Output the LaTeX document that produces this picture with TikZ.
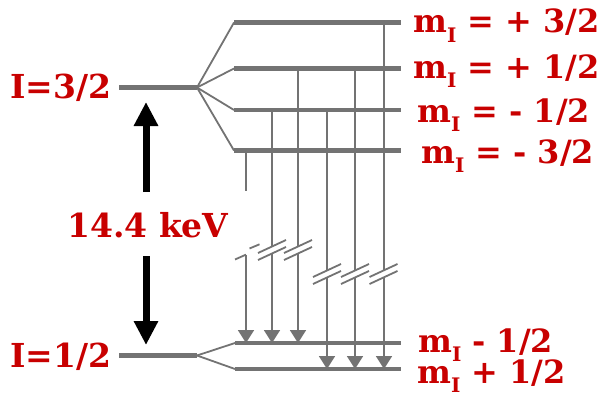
\documentclass[tikz,border=0pt]{standalone}
\usepackage{fontspec}
\setmainfont{DejaVu Serif}
\usetikzlibrary{arrows.meta}
\definecolor{lblred}{HTML}{C80000}
\definecolor{lvlgray}{HTML}{737373}
\newcommand{\mysub}{\raisebox{-0.3em}{\fontsize{20}{20}\selectfont\bfseries I}}
\begin{document}
\begin{tikzpicture}[x=1pt,y=-1pt,
  lvl/.style={draw=lvlgray,line width=4.5pt},
  fan/.style={draw=lvlgray,line width=1.8pt},
  trans/.style={draw=lvlgray,line width=1.8pt,-{Triangle[width=16pt,length=13pt]}},
  vline/.style={draw=lvlgray,line width=1.8pt},
  slash/.style={draw=lvlgray,line width=1.8pt},
  gapband/.style={draw=white,line width=5.5pt},
  bigarrow/.style={draw=black,line width=7pt,-{Triangle[width=23pt,length=24pt]}},
  lbl/.style={text=lblred,font=\fontsize{33}{33}\selectfont\bfseries,inner sep=0pt,anchor=base west},
  mlbl/.style={text=lblred,font=\fontsize{32}{32}\selectfont\bfseries,inner sep=0pt,anchor=base west},
]
\useasboundingbox (0,0) rectangle (607,396);
% upper levels
\coordinate (I32a) at (119,87.5);
\coordinate (I32b) at (197,87.5);
\coordinate (u1a) at (234,22.5);  \coordinate (u1b) at (401,22.5);
\coordinate (u2a) at (234,68.5);  \coordinate (u2b) at (401,68.5);
\coordinate (u3a) at (234,110);   \coordinate (u3b) at (401,110);
\coordinate (u4a) at (234,150.5); \coordinate (u4b) at (401,150.5);
% lower levels
\coordinate (I12a) at (119,355.5);
\coordinate (I12b) at (197,355.5);
\coordinate (d1a) at (235,343);   \coordinate (d1b) at (401,343);
\coordinate (d2a) at (235,369);   \coordinate (d2b) at (401,369);

% fans
\draw[fan] (I32b) -- (u1a);
\draw[fan] (I32b) -- (u2a);
\draw[fan] (I32b) -- (u3a);
\draw[fan] (I32b) -- (u4a);
\draw[fan] (I12b) -- (d1a);
\draw[fan] (I12b) -- (d2a);

% transitions
\coordinate (t1s) at (246,150.5); \coordinate (t1m) at (246,191); \coordinate (t1r) at (246,255);
\coordinate (t1e) at (246,343);
\coordinate (t2s) at (272,110);   \coordinate (t2e) at (272,343);
\coordinate (t3s) at (298,68.5);  \coordinate (t3e) at (298,343);
\coordinate (t4s) at (327,110);   \coordinate (t4e) at (327,369);
\coordinate (t5s) at (355,68.5);  \coordinate (t5e) at (355,369);
\coordinate (t6s) at (384,22.5);  \coordinate (t6e) at (384,369);

\draw[vline] (t1s) -- (t1m);
\draw[trans] (t1r) -- (t1e);
\draw[trans] (t2s) -- (t2e);
\draw[trans] (t3s) -- (t3e);
\draw[trans] (t4s) -- (t4e);
\draw[trans] (t5s) -- (t5e);
\draw[trans] (t6s) -- (t6e);

% break marks
\foreach \x/\c in {272/250, 298/250, 327/274, 355/274, 383.5/274}{
  \draw[gapband] (\x-14,\c+6.5) -- (\x+14,\c-6.5);
  \draw[slash] (\x-14,\c+10) -- (\x+14,\c-3);
  \draw[slash] (\x-14,\c+3) -- (\x+14,\c-10);
}
\draw[slash] (249.5,248.5) -- (259.5,244.3);
\draw[slash] (235,259.5) -- (246,254.6);

% levels
\draw[lvl] (I32a) -- (I32b);
\draw[lvl] (u1a) -- (u1b);
\draw[lvl] (u2a) -- (u2b);
\draw[lvl] (u3a) -- (u3b);
\draw[lvl] (u4a) -- (u4b);
\draw[lvl] (I12a) -- (I12b);
\draw[lvl] (d1a) -- (d1b);
\draw[lvl] (d2a) -- (d2b);

% energy arrow
\coordinate (ea1) at (146,192); \coordinate (ea2) at (146,102);
\coordinate (eb1) at (146,256); \coordinate (eb2) at (146,345);
\draw[bigarrow] (ea1) -- (ea2);
\draw[bigarrow] (eb1) -- (eb2);

% labels
\node[lbl] (l32) at (10,98) {I=3/2};
\node[lbl] (l12) at (10,367) {I=1/2};
\node[lbl] (lkev) at (67,237) {14.4 keV};
\node[mlbl] (m1) at (413,33) {m\mysub{} = + 3/2};
\node[mlbl] (m2) at (413,78) {m\mysub{} = + 1/2};
\node[mlbl] (m3) at (417,122) {m\mysub{} = - 1/2};
\node[mlbl] (m4) at (421,163) {m\mysub{} = - 3/2};
\node[mlbl] (m5) at (418,352) {m\mysub{} - 1/2};
\node[mlbl] (m6) at (417,383) {m\mysub{} + 1/2};
\end{tikzpicture}
\end{document}
